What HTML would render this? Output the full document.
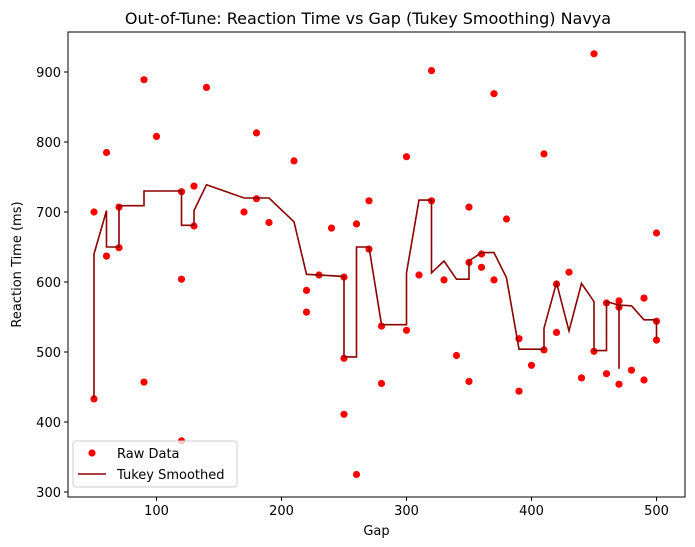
<!DOCTYPE html>
<html><head><meta charset="utf-8"><style>
body{margin:0;background:#fff;}
svg{display:block;font-family:"DejaVu Sans","Liberation Sans",sans-serif;}
</style></head><body>
<svg id="chart" width="695" height="547"></svg>
<script>
const gaps=[50,50,60,60,70,70,90,90,100,120,120,120,130,130,140,170,180,180,190,210,220,220,230,240,250,250,250,260,260,270,270,280,280,300,300,310,320,320,330,340,350,350,350,360,360,370,370,380,390,390,400,410,410,420,420,430,440,450,450,460,460,470,470,470,480,490,490,500,500,500];
const rts=[700,433,785,637,707,649,889,457,808,729,604,373,737,680,878,700,813,719,685,773,588,557,610,677,607,491,411,683,325,716,647,537,455,779,531,610,902,716,603,495,707,628,458,640,621,869,603,690,519,444,481,783,503,597,528,614,463,926,501,570,469,573,564,454,474,577,460,670,544,517];
const smoothGaps=[50,50,60,60,70,70,90,90,120,120,130,130,140,170,190,210,220,250,250,260,260,270,280,300,300,310,320,320,330,340,350,350,360,370,380,390,410,410,420,430,440,450,450,460,460,470,470,470,480,490,500,500];
const smoothVals=[434,640,702,650,650,709,709,730,730,681,681,702,739,720,720,686,611,608,493,493,650,650,539,539,613,717,717,613,630,604,604,630,642,642,606,504,504,534,599,530,598,572,502,502,572,567,476,567,566,546,546,519];
const xTicks=[100,200,300,400,500];
const yTicks=[300,400,500,600,700,800,900];

const NS="http://www.w3.org/2000/svg";
const svg=document.getElementById('chart');
const L=68,R=685,T=32,B=497;
const X=v=>31.5+1.25*v;
const Y=v=>492-(v-300)*0.7;
function mk(tag,attrs,parent){const e=document.createElementNS(NS,tag);for(const k in attrs)e.setAttribute(k,attrs[k]);(parent||svg).appendChild(e);return e;}

const title=mk('text',{x:368,y:24,'text-anchor':'middle','font-size':16,fill:'#000'});
title.textContent='Out-of-Tune: Reaction Time vs Gap (Tukey Smoothing) Navya';



xTicks.forEach(t=>{
  const l=mk('line',{x1:X(t),x2:X(t),y1:B,y2:B+4,stroke:'#000','stroke-width':1});
  
  
  const tx=mk('text',{x:X(t),y:B+18,'text-anchor':'middle','font-size':13});
  tx.textContent=t;
  
  
});
yTicks.forEach(t=>{
  const l=mk('line',{x1:L-4,x2:L,y1:Y(t),y2:Y(t),stroke:'#000','stroke-width':1});
  
  
  const tx=mk('text',{x:L-7,y:Y(t)+5,'text-anchor':'end','font-size':13});
  tx.textContent=t;
  
  
});
const xt=mk('text',{x:(L+R)/2,y:535,'text-anchor':'middle','font-size':13});
xt.textContent='Gap';


const yt=mk('text',{x:0,y:0,'text-anchor':'middle','font-size':13,transform:`translate(21,${(T+B)/2}) rotate(-90)`});
yt.textContent='Reaction Time (ms)';



gaps.forEach((g,i)=>{
  const c=mk('circle',{cx:X(g),cy:Y(rts[i]),r:3.6,fill:'#ff0000'});
  
  
});
const pts=smoothGaps.map((g,i)=>X(g)+','+Y(smoothVals[i])).join(' ');
const pl=mk('polyline',{points:pts,fill:'none',stroke:'#8b0000','stroke-width':1.6,'stroke-linejoin':'miter'});



const frame=mk('rect',{x:L,y:T,width:R-L,height:B-T,fill:'none',stroke:'#000','stroke-width':1});



const lg=mk('g',{});


mk('rect',{x:73,y:441,width:164,height:46,rx:3,fill:'#fff','fill-opacity':0.8,stroke:'#ccc'},lg);
const ld=mk('circle',{cx:92,cy:453,r:3.6,fill:'#ff0000'},lg);


const l1=mk('text',{x:117,y:458,'font-size':13},lg);l1.textContent='Raw Data';


const ll=mk('line',{x1:78,x2:106,y1:474,y2:474,stroke:'#8b0000','stroke-width':1.6},lg);


const l2=mk('text',{x:117,y:479,'font-size':13},lg);l2.textContent='Tukey Smoothed';


</script>
</body></html>
